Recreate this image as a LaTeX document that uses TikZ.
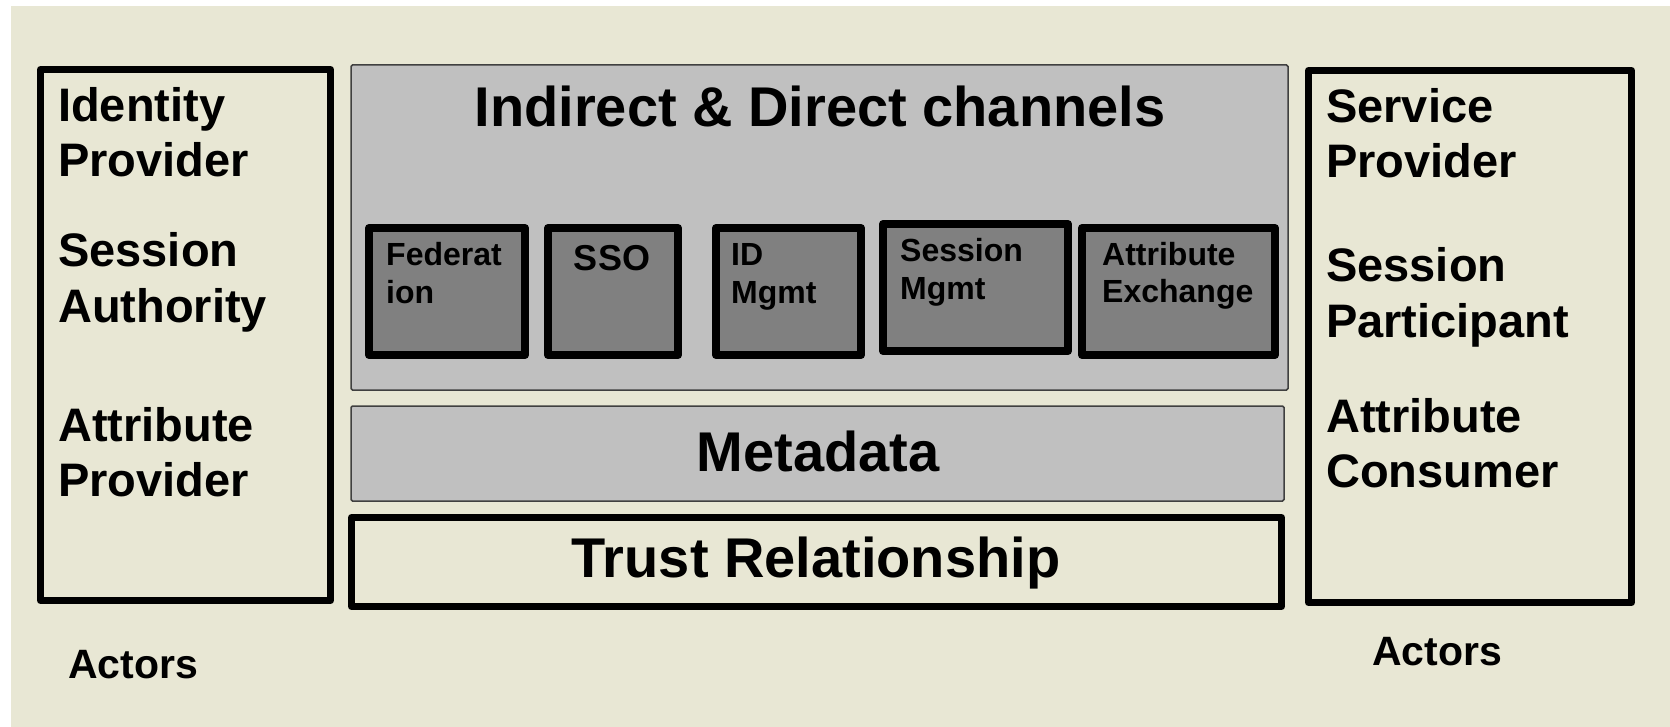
\documentclass[tikz,border=0pt]{standalone}
\usepackage{fontspec}
\setmainfont{Liberation Sans}
\usetikzlibrary{positioning}

\definecolor{paper}{RGB}{232,231,212}
\definecolor{layergray}{RGB}{192,192,192}
\definecolor{blockgray}{RGB}{128,128,128}

\begin{document}
\begin{tikzpicture}[x=1pt, y=-1pt,
    actorbox/.style  = {draw, line width=7pt, line join=round, fill=paper},
    layerbox/.style  = {draw=black!75, line width=1.5pt, rounded corners=1.5pt, fill=layergray},
    blockbox/.style  = {draw, line width=8pt, line join=round, fill=blockgray},
    bigtext/.style   = {font=\fontsize{56}{66}\selectfont\bfseries, inner sep=0pt, anchor=base},
    sidetext/.style  = {font=\fontsize{47}{55}\selectfont\bfseries, align=left, inner sep=0pt, anchor=base west},
    actortext/.style = {font=\fontsize{41}{48}\selectfont\bfseries, inner sep=0pt, anchor=base west},
    blocktext/.style = {font=\fontsize{32}{37}\selectfont\bfseries, align=left, inner sep=0pt, anchor=base west}]

    % page and backdrop
    \useasboundingbox (0, 0) rectangle (1670, 727);
    \fill[white] (0, 0) rectangle (1670, 727);
    \fill[paper] (11, 6) rectangle (1670, 727);

    % actors on both sides (multi-line labels sit on their last baseline)
    \draw[actorbox] (  40.5, 69.5) rectangle ( 330.5, 600.5);
    \draw[actorbox] (1308.5, 70.5) rectangle (1631.5, 602.5);

    \node[sidetext] (idp)  at (58, 177) {Identity\\Provider};
    \node[sidetext] (sa)   at (58, 322) {Session\\Authority};
    \node[sidetext] (ap)   at (58, 496) {Attribute\\Provider};
    \node[actortext] (actl) at (68, 678) {Actors};

    \node[sidetext] (sp)   at (1326, 178) {Service\\Provider};
    \node[sidetext] (spart) at (1326, 337) {Session\\Participant};
    \node[sidetext] (ac)   at (1326, 487) {Attribute\\Consumer};
    \node[actortext] (actr) at (1372, 665) {Actors};

    % layers in the middle
    \draw[layerbox] (351,  65) rectangle (1288, 390);
    \draw[layerbox] (351, 406) rectangle (1284, 501);
    \draw[actorbox] (351.5, 517.5) rectangle (1281.5, 606.5);

    \node[bigtext] (chan)  at (820, 127) {Indirect \& Direct channels};
    \node[bigtext] (meta)  at (818, 471) {Metadata};
    \node[bigtext] (trust) at (816, 577) {Trust Relationship};

    % protocol blocks
    \draw[blockbox] ( 369, 228) rectangle ( 525, 355);
    \draw[blockbox] ( 548, 228) rectangle ( 678, 355);
    \draw[blockbox] ( 716, 228) rectangle ( 861, 355);
    \draw[blockbox] ( 883, 224) rectangle (1068, 351);
    \draw[blockbox] (1082, 228) rectangle (1275, 355);

    \node[blocktext] (fed)   at ( 386, 303) {Federat\\ion};
    \node[font=\fontsize{36}{42}\selectfont\bfseries, inner sep=0pt, anchor=base] (sso) at (612, 271) {SSO};
    \node[blocktext] (idm)   at ( 731, 303) {ID\\Mgmt};
    \node[blocktext] (sessm) at ( 900, 299) {Session\\Mgmt};
    \node[blocktext] (attrx) at (1102, 302) {Attribute\\Exchange};
\end{tikzpicture}
\end{document}
